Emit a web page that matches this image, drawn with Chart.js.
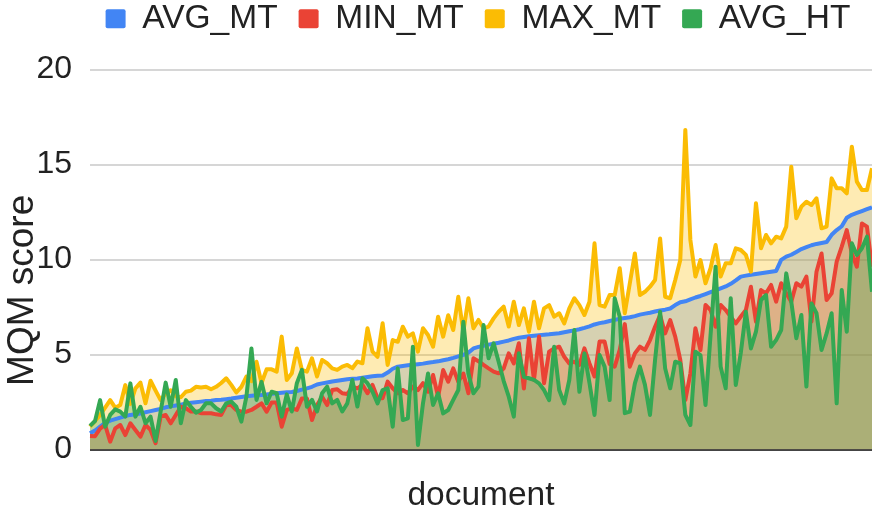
<!DOCTYPE html>
<html>
<head>
<meta charset="utf-8">
<script src="https://cdn.jsdelivr.net/npm/chart.js@4.4.1/dist/chart.umd.min.js"></script>
<style>
html,body{margin:0;padding:0;background:#fff;}
#wrap{width:872px;height:513px;position:relative;}
</style>
</head>
<body>
<div id="wrap"><canvas id="c" width="872" height="513"></canvas></div>
<script>
const SERIES_NAMES = ['AVG_MT', 'MIN_MT', 'MAX_MT', 'AVG_HT'];
const SERIES_COLORS = ['#4285f4', '#ea4335', '#fbbc04', '#34a853'];

const AVG_MT = [
  0.85, 1.0, 1.2, 1.4, 1.52, 1.6, 1.68, 1.76, 1.82, 1.86,
  1.9, 1.96, 2.02, 2.08, 2.14, 2.22, 2.27, 2.32, 2.36, 2.42,
  2.46, 2.49, 2.52, 2.55, 2.57, 2.6, 2.62, 2.65, 2.68, 2.72,
  2.76, 2.8, 2.83, 2.85, 2.87, 2.9, 2.93, 2.96, 2.99, 3.01,
  3.03, 3.08, 3.15, 3.22, 3.3, 3.42, 3.48, 3.53, 3.58, 3.62,
  3.66, 3.7, 3.72, 3.74, 3.78, 3.82, 3.86, 3.88, 3.9, 4.05,
  4.25, 4.36, 4.4, 4.43, 4.46, 4.49, 4.52, 4.57, 4.6, 4.64,
  4.7, 4.75, 4.82, 4.9, 4.98, 5.1, 5.32, 5.4, 5.46, 5.52,
  5.57, 5.62, 5.68, 5.74, 5.82, 5.88, 5.92, 5.96, 5.99, 6.02,
  6.04, 6.06, 6.09, 6.12, 6.17, 6.22, 6.27, 6.33, 6.4, 6.48,
  6.58, 6.65, 6.7, 6.76, 6.82, 6.88, 6.92, 6.96, 7.02, 7.1,
  7.15, 7.2, 7.26, 7.32, 7.36, 7.42, 7.6, 7.75, 7.8, 7.9,
  8.0, 8.08, 8.18, 8.28, 8.38, 8.48, 8.58, 8.72, 8.9, 9.1,
  9.15, 9.2, 9.24, 9.28, 9.32, 9.36, 9.4, 9.98, 10.15, 10.25,
  10.4, 10.55, 10.65, 10.75, 10.82, 10.87, 10.92, 11.3, 11.55, 11.75,
  12.2, 12.35, 12.45, 12.55, 12.65, 12.75
];

const MIN_MT = [
  0.71, 0.7, 1.1, 1.29, 0.41, 1.11, 1.29, 0.76, 1.38, 1.03,
  0.68, 1.29, 1.03, 0.33, 1.73, 1.82, 1.38, 1.82, 2.25, 2.17,
  2.0, 2.0, 1.91, 1.91, 1.91, 1.85, 1.82, 2.34, 2.34, 2.08,
  1.99, 1.99, 2.08, 2.25, 2.43, 1.99, 2.47, 2.47, 1.2, 2.08,
  2.17, 2.08, 2.69, 2.69, 1.55, 2.34, 2.78, 2.34, 3.13, 3.17,
  2.96, 2.92, 3.31, 3.22, 3.4, 2.96, 3.4, 2.7, 2.7, 3.57,
  3.22, 2.96, 3.13, 2.96, 3.31, 3.13, 3.49, 3.04, 3.92, 2.78,
  4.18, 3.57, 4.27, 3.57, 4.0, 2.96, 4.8, 4.65, 4.45, 4.27,
  4.1, 4.01, 4.27, 5.06, 4.53, 5.59, 3.21, 5.85, 3.66, 5.95,
  3.49, 5.15, 5.32, 5.41, 4.88, 4.53, 4.62, 4.45, 5.32, 4.53,
  3.84, 5.68, 5.68, 4.5, 4.36, 5.24, 6.6, 4.36, 5.06, 5.41,
  5.24, 5.76, 6.46, 7.07, 6.11, 6.81, 5.94, 4.71, 2.6, 4.0,
  6.38, 5.24, 7.61, 7.34, 6.46, 7.61, 7.34, 6.99, 6.64, 7.0,
  7.34, 8.57, 6.73, 8.39, 8.22, 8.66, 7.78, 8.75, 8.22, 7.78,
  8.75, 8.57, 9.1, 6.73, 9.36, 10.32, 7.87, 8.22, 9.89, 10.68,
  11.55, 10.32, 9.62, 11.9, 11.73, 9.62
];

const MAX_MT = [
  1.2, 1.5, 1.82, 2.2, 2.6, 2.2, 2.34, 3.39, 2.4, 3.22,
  3.52, 2.43, 3.62, 3.1, 2.6, 2.95, 3.12, 2.8, 2.75, 3.04,
  3.1, 3.3, 3.26, 3.3, 3.17, 3.3, 3.5, 3.75, 3.4, 3.0,
  3.3, 3.84, 3.6, 4.62, 3.5, 4.22, 4.22, 4.1, 5.94, 3.66,
  4.01, 5.32, 4.19, 4.1, 4.8, 3.84, 4.71, 4.54, 4.27, 4.19,
  4.36, 4.45, 4.28, 4.63, 4.54, 6.38, 5.15, 4.88, 6.64, 4.45,
  5.76, 5.67, 6.46, 5.94, 6.11, 5.15, 6.38, 6.03, 5.41, 6.99,
  5.94, 7.07, 6.29, 8.04, 6.2, 7.96, 6.38, 6.82, 6.38, 6.47,
  6.9, 7.25, 7.52, 6.47, 7.78, 6.55, 7.43, 6.2, 7.78, 6.38,
  7.43, 7.6, 6.99, 7.17, 6.64, 7.43, 7.96, 7.6, 7.08, 7.78,
  10.85, 7.6, 7.52, 8.13, 8.13, 9.54, 7.17, 8.75, 10.32, 8.13,
  8.3, 8.57, 8.92, 11.11, 8.04, 7.96, 8.92, 9.97, 16.82, 11.03,
  9.1, 9.97, 8.75, 9.54, 10.76, 9.1, 9.8, 9.8, 10.59, 10.5,
  10.24, 9.36, 12.96, 10.59, 11.29, 10.85, 11.2, 11.11, 11.73, 14.88,
  12.17, 12.78, 13.04, 12.87, 13.22, 11.64, 11.73, 14.27, 13.75, 13.75,
  13.48, 15.94, 14.1, 13.66, 13.66, 14.8
];

const AVG_HT = [
  1.24, 1.5, 2.6, 1.2, 1.82, 2.11, 1.99, 1.73, 3.48, 1.73,
  2.25, 1.38, 1.73, 0.45, 2.0, 3.52, 2.25, 3.66, 1.38, 2.6,
  2.25, 1.94, 2.08, 2.43, 2.43, 2.17, 2.0, 2.43, 2.52, 2.25,
  1.47, 2.78, 5.32, 2.61, 3.56, 2.43, 3.04, 2.96, 1.73, 2.9,
  2.0, 3.49, 4.19, 2.25, 2.61, 2.0, 2.96, 3.31, 2.43, 2.61,
  2.0, 2.43, 3.66, 2.26, 3.75, 3.49, 3.04, 2.43, 3.13, 3.22,
  1.2, 4.27, 1.55, 1.64, 5.41, 0.24, 2.43, 4.0, 2.34, 2.96,
  1.9, 2.08, 2.61, 3.13, 6.73, 4.0, 2.96, 3.31, 6.55, 4.8,
  5.59, 4.62, 3.6, 2.78, 1.73, 5.06, 3.83, 3.75, 3.66, 3.48,
  3.13, 2.6, 5.41, 3.13, 2.43, 3.66, 6.29, 3.04, 5.06, 3.5,
  1.82, 4.97, 4.36, 2.6, 7.96, 6.99, 1.91, 1.99, 3.48, 4.36,
  3.4, 1.82, 4.71, 7.25, 4.27, 3.22, 4.62, 4.53, 1.82, 1.29,
  5.15, 4.97, 2.34, 6.03, 9.62, 4.36, 3.22, 7.96, 3.4, 5.1,
  7.25, 5.32, 6.2, 7.87, 8.13, 5.41, 5.76, 6.29, 9.27, 7.78,
  5.85, 7.08, 3.31, 7.69, 7.17, 5.24, 6.11, 7.17, 2.43, 8.39,
  6.2, 10.85, 10.24, 10.59, 11.2, 8.3
];

const Y_MIN = 0, Y_MAX = 20, Y_STEP = 5;
const X_TITLE = 'document';
const Y_TITLE = 'MQM score';

// document categories (one per document on the x axis)
const DOCUMENTS = AVG_MT.map((_, i) => 'doc ' + (i + 1));

const SERIES_VALUES = [AVG_MT, MIN_MT, MAX_MT, AVG_HT];
const DRAW_ORDER = [3, 2, 1, 0];

function rgba(hex, a) {
  const n = parseInt(hex.slice(1), 16);
  return `rgba(${(n >> 16) & 255},${(n >> 8) & 255},${n & 255},${a})`;
}

const FONT = "'Liberation Sans', Arial, sans-serif";
const TEXT = '#222222';

const legendShift = {
  id: 'legendShift',
  afterLayout(chart) {
    const lg = chart.legend;
    if (!lg) return;
    const dx = 42;
    lg.left += dx; lg.right += dx;
    lg.top = -19;
  }
};

new Chart(document.getElementById('c'), {
  type: 'line',
  data: {
    labels: DOCUMENTS,
    datasets: SERIES_NAMES.map((name, k) => ({
      label: name,
      data: SERIES_VALUES[k],
      borderColor: SERIES_COLORS[k],
      backgroundColor: rgba(SERIES_COLORS[k], 0.3),
      borderWidth: 4,
      borderJoinStyle: 'round',
      pointRadius: 0,
      pointHoverRadius: 0,
      tension: 0,
      fill: 'origin',
      order: DRAW_ORDER[k]
    }))
  },
  options: {
    responsive: false,
    animation: false,
    devicePixelRatio: 1,
    events: [],
    layout: { padding: { top: 5, left: 0, right: 0, bottom: 0 } },
    plugins: {
      filler: { drawTime: 'beforeDatasetsDraw' },
      tooltip: { enabled: false },
      legend: {
        position: 'top',
        align: 'center',
        labels: {
          font: { family: FONT, size: 33.5 },
          color: TEXT,
          boxWidth: 20,
          boxHeight: 19,
          padding: 21,
          useBorderRadius: true,
          borderRadius: 2,
          sort: (a, b) => a.datasetIndex - b.datasetIndex,
          generateLabels: (chart) => {
            const items = Chart.defaults.plugins.legend.labels.generateLabels(chart);
            items.forEach(it => {
              const c = chart.data.datasets[it.datasetIndex].borderColor;
              it.fillStyle = c; it.strokeStyle = c; it.lineWidth = 0;
            });
            return items;
          }
        }
      }
    },
    scales: {
      x: {
        type: 'category',
        offset: false,
        grid: { display: false, drawTicks: false },
        border: { display: false },
        ticks: { display: false },
        title: {
          display: true, text: X_TITLE, color: TEXT,
          font: { family: FONT, size: 33.5, lineHeight: 1 },
          padding: { top: 30, bottom: 0 }
        }
      },
      y: {
        min: Y_MIN, max: Y_MAX,
        afterFit: (scale) => { scale.width = 90; },
        ticks: {
          stepSize: Y_STEP, color: TEXT, padding: 18,
          font: { family: FONT, size: 32 }
        },
        grid: {
          drawTicks: false,
          lineWidth: 2,
          color: (ctx) => (ctx.tick && ctx.tick.value === 0) ? '#444444' : '#d6d6d6'
        },
        border: { display: false },
        title: {
          display: true, text: Y_TITLE + '      ', color: TEXT,
          font: { family: FONT, size: 37, lineHeight: 1 },
          padding: { top: 4, bottom: 0 }
        }
      }
    }
  },
  plugins: [legendShift]
});
</script>
</body>
</html>
